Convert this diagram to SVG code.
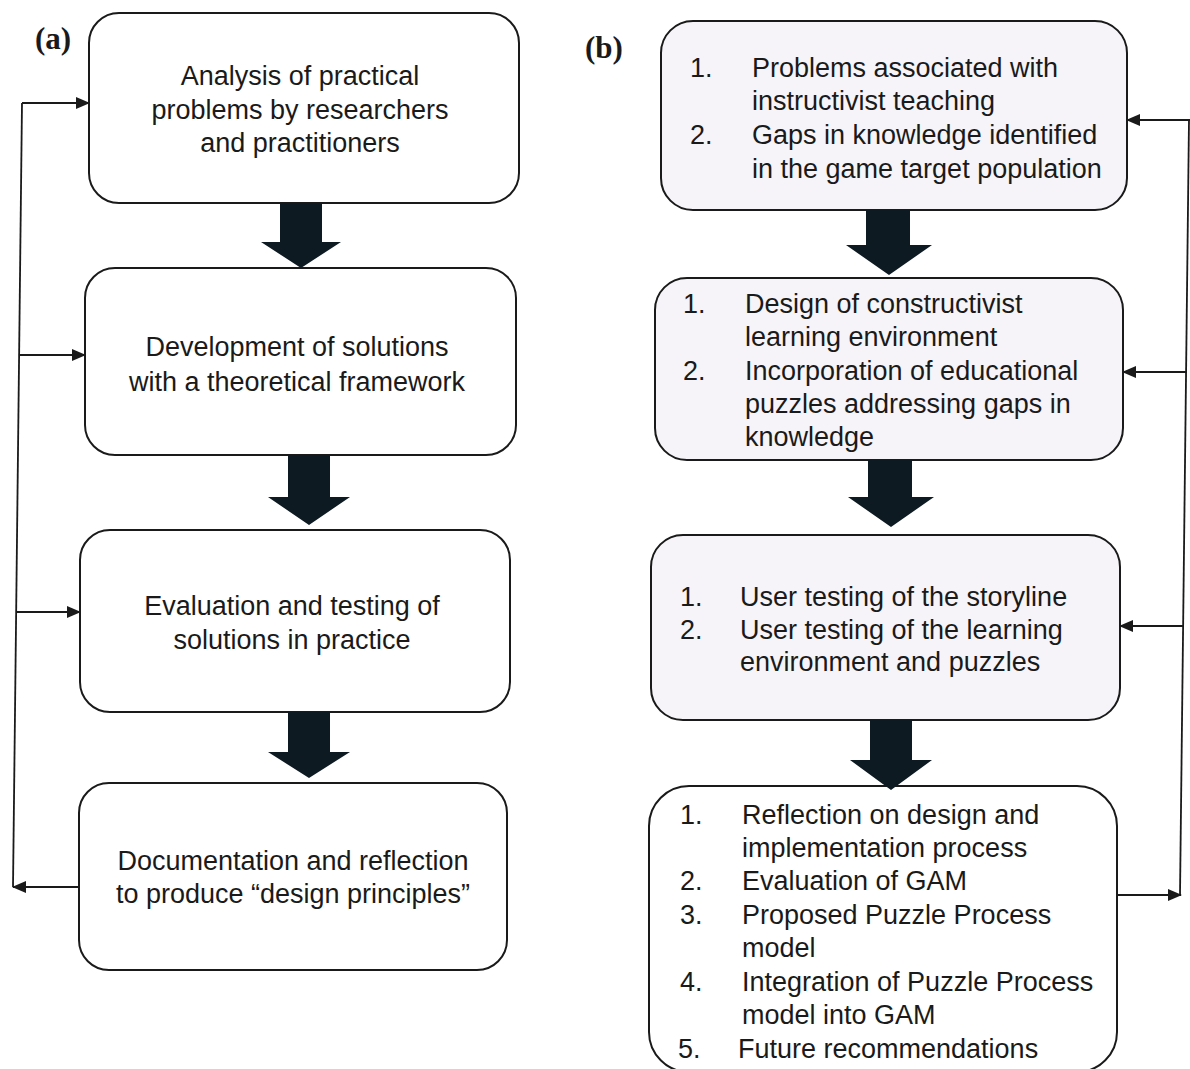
<svg xmlns="http://www.w3.org/2000/svg" width="1190" height="1069" viewBox="0 0 1190 1069">
<style>
.box{fill:#ffffff;stroke:#1a1a1a;stroke-width:2}
.boxg{fill:#f6f4f8;stroke:#1a1a1a;stroke-width:2}
.t{font-family:"Liberation Sans",Arial,sans-serif;font-size:27px;fill:#1a1a1a}
.c{text-anchor:middle}
.lbl{font-family:"Liberation Serif","Times New Roman",serif;font-weight:bold;font-size:31px;fill:#1a1a1a}
.big{fill:#0e1a22}
.ln{fill:none;stroke:#1a1a1a;stroke-width:1.8}
</style>
<defs>
<marker id="ah" markerUnits="userSpaceOnUse" markerWidth="14" markerHeight="12" refX="13" refY="6" orient="auto">
<path d="M0,0 L14,6 L0,12 Z" fill="#1a1a1a"/>
</marker>
</defs>
<rect width="1190" height="1069" fill="#ffffff"/>

<text class="lbl" x="35" y="49">(a)</text>
<text class="lbl" x="585" y="58">(b)</text>

<g id="a1">
<rect class="box" x="89" y="13" width="430" height="190" rx="30"/>
<text class="t c" x="300" y="85">Analysis of practical</text>
<text class="t c" x="300" y="119">problems by researchers</text>
<text class="t c" x="300" y="152">and practitioners</text>
</g>
<g id="a2">
<rect class="box" x="85" y="268" width="431" height="187" rx="30"/>
<text class="t c" x="297" y="356">Development of solutions</text>
<text class="t c" x="297" y="391">with a theoretical framework</text>
</g>
<g id="a3">
<rect class="box" x="80" y="530" width="430" height="182" rx="30"/>
<text class="t c" x="292" y="615">Evaluation and testing of</text>
<text class="t c" x="292" y="649">solutions in practice</text>
</g>
<g id="a4">
<rect class="box" x="79" y="783" width="428" height="187" rx="30"/>
<text class="t c" x="293" y="870">Documentation and reflection</text>
<text class="t c" x="293" y="903">to produce “design principles”</text>
</g>

<g id="b1">
<rect class="boxg" x="661" y="21" width="466" height="189" rx="32"/>
<text class="t" x="690" y="77">1.</text>
<text class="t" x="752" y="77">Problems associated with</text>
<text class="t" x="752" y="110">instructivist teaching</text>
<text class="t" x="690" y="144">2.</text>
<text class="t" x="752" y="144">Gaps in knowledge identified</text>
<text class="t" x="752" y="178">in the game target population</text>
</g>
<g id="b2">
<rect class="boxg" x="655" y="278" width="468" height="182" rx="32"/>
<text class="t" x="683" y="313">1.</text>
<text class="t" x="745" y="313">Design of constructivist</text>
<text class="t" x="745" y="346">learning environment</text>
<text class="t" x="683" y="380">2.</text>
<text class="t" x="745" y="380">Incorporation of educational</text>
<text class="t" x="745" y="413">puzzles addressing gaps in</text>
<text class="t" x="745" y="446">knowledge</text>
</g>
<g id="b3">
<rect class="boxg" x="651" y="535" width="469" height="185" rx="32"/>
<text class="t" x="680" y="606">1.</text>
<text class="t" x="740" y="606">User testing of the storyline</text>
<text class="t" x="680" y="639">2.</text>
<text class="t" x="740" y="639">User testing of the learning</text>
<text class="t" x="740" y="671">environment and puzzles</text>
</g>
<g id="b4">
<rect class="box" x="649" y="786" width="468" height="286" rx="40"/>
<text class="t" x="680" y="824">1.</text>
<text class="t" x="742" y="824">Reflection on design and</text>
<text class="t" x="742" y="857">implementation process</text>
<text class="t" x="680" y="890">2.</text>
<text class="t" x="742" y="890">Evaluation of GAM</text>
<text class="t" x="680" y="924">3.</text>
<text class="t" x="742" y="924">Proposed Puzzle Process</text>
<text class="t" x="742" y="957">model</text>
<text class="t" x="680" y="991">4.</text>
<text class="t" x="742" y="991">Integration of Puzzle Process</text>
<text class="t" x="742" y="1024">model into GAM</text>
<text class="t" x="678" y="1058">5.</text>
<text class="t" x="738" y="1058">Future recommendations</text>
</g>

<g id="connectors">
<polygon class="big" points="280,203 322,203 322,242 341,242 301,268 261,242 280,242"/>
<polygon class="big" points="288,455 330,455 330,497 350,497 309,525 268,497 288,497"/>
<polygon class="big" points="288,712 330,712 330,752 350,752 309,778 268,752 288,752"/>
<polygon class="big" points="866,210 910,210 910,245 932,245 889,275 846,245 866,245"/>
<polygon class="big" points="868,460 912,460 912,497 934,497 891,527 848,497 868,497"/>
<polygon class="big" points="870,720 912,720 912,760 932,760 891,790 850,760 870,760"/>

<path class="ln" d="M13,887 L22,103"/>
<path class="ln" d="M22,103 L89,103" marker-end="url(#ah)"/>
<path class="ln" d="M19,355 L85,355" marker-end="url(#ah)"/>
<path class="ln" d="M16,612 L80,612" marker-end="url(#ah)"/>
<path class="ln" d="M79,887 L13,887" marker-end="url(#ah)"/>

<path class="ln" d="M1189,120 L1180,895"/>
<path class="ln" d="M1190,120 L1127,120" marker-end="url(#ah)"/>
<path class="ln" d="M1187,372 L1123,372" marker-end="url(#ah)"/>
<path class="ln" d="M1184,626 L1120,626" marker-end="url(#ah)"/>
<path class="ln" d="M1117,895 L1181,895" marker-end="url(#ah)"/>
</g>
</svg>
